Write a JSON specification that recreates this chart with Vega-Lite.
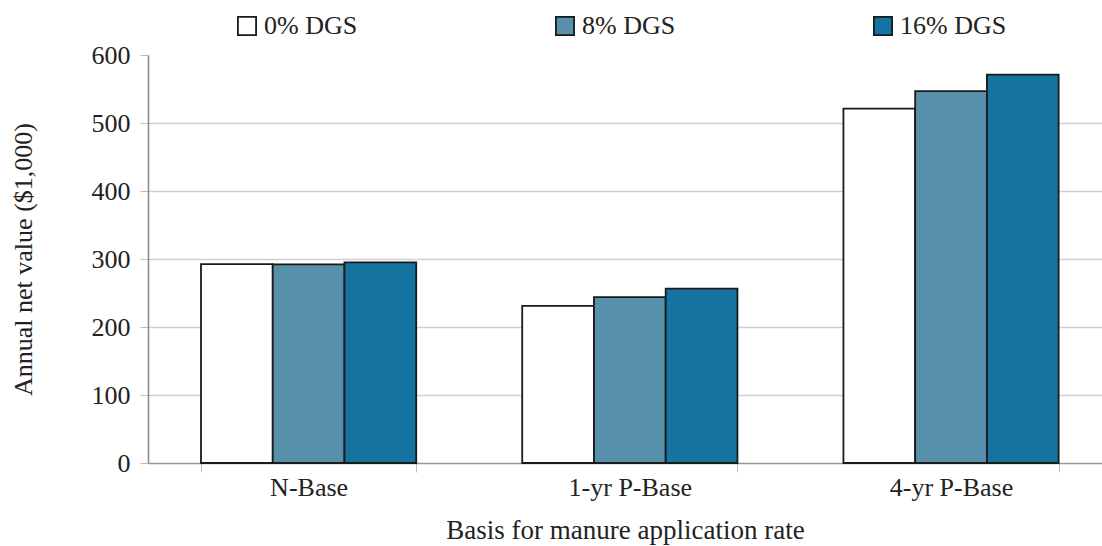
{
  "$schema": "https://vega.github.io/schema/vega-lite/v6.json",
  "width": 954,
  "height": 408,
  "autosize": {"type": "none"},
  "padding": {"left": 148, "top": 55, "right": 0, "bottom": 83},
  "background": "white",
  "config": {
    "font": "Liberation Serif",
    "view": {"stroke": null}
  },
  "data": {
    "values": [
      {"basis": "N-Base", "dgs": "0% DGS", "value": 292.5},
      {"basis": "N-Base", "dgs": "8% DGS", "value": 292},
      {"basis": "N-Base", "dgs": "16% DGS", "value": 295},
      {"basis": "1-yr P-Base", "dgs": "0% DGS", "value": 231},
      {"basis": "1-yr P-Base", "dgs": "8% DGS", "value": 244},
      {"basis": "1-yr P-Base", "dgs": "16% DGS", "value": 256.5},
      {"basis": "4-yr P-Base", "dgs": "0% DGS", "value": 521},
      {"basis": "4-yr P-Base", "dgs": "8% DGS", "value": 547},
      {"basis": "4-yr P-Base", "dgs": "16% DGS", "value": 571}
    ]
  },
  "mark": {"type": "bar", "stroke": "#1a1a1a", "strokeWidth": 1.8},
  "encoding": {
    "x": {
      "field": "basis",
      "type": "nominal",
      "sort": ["N-Base", "1-yr P-Base", "4-yr P-Base"],
      "scale": {"paddingInner": 0.33, "paddingOuter": 0.15, "align": 0.55},
      "axis": {
        "title": "Basis for manure application rate",
        "titleFont": "Liberation Serif",
        "titleFontSize": 27,
        "titleFontWeight": "normal",
        "titleColor": "#222",
        "titlePadding": 17,
        "labelAngle": 0,
        "labelFont": "Liberation Serif",
        "labelFontSize": 26,
        "labelColor": "#222",
        "labelPadding": 2,
        "tickBand": "extent",
        "tickSize": 9,
        "tickColor": "#bbbbbb",
        "domainColor": "#999999",
        "domainWidth": 1.5,
        "grid": false
      }
    },
    "xOffset": {
      "field": "dgs",
      "type": "nominal",
      "sort": ["0% DGS", "8% DGS", "16% DGS"],
      "scale": {"paddingInner": 0, "paddingOuter": 0}
    },
    "y": {
      "field": "value",
      "type": "quantitative",
      "scale": {"domain": [0, 600], "nice": false},
      "axis": {
        "title": "Annual net value ($1,000)",
        "titleFont": "Liberation Serif",
        "titleFontSize": 26,
        "titleFontWeight": "normal",
        "titleColor": "#222",
        "titlePadding": 55,
        "values": [0, 100, 200, 300, 400, 500, 600],
        "labelFont": "Liberation Serif",
        "labelFontSize": 26,
        "labelColor": "#222",
        "labelPadding": 10,
        "tickSize": 8,
        "tickColor": "#bbbbbb",
        "domainColor": "#888888",
        "domainWidth": 1.5,
        "grid": true,
        "gridColor": {"condition": {"test": "datum.value == 600 || datum.value == 0", "value": "transparent"}, "value": "#d0d0d0"},
        "gridWidth": 1.5
      }
    },
    "fill": {
      "field": "dgs",
      "type": "nominal",
      "sort": ["0% DGS", "8% DGS", "16% DGS"],
      "scale": {"domain": ["0% DGS", "8% DGS", "16% DGS"], "range": ["#ffffff", "#5790ab", "#1573a0"]},
      "legend": {
        "title": null,
        "orient": "none",
        "legendX": 86,
        "legendY": -42,
        "direction": "horizontal",
        "columns": 3,
        "gridAlign": "all",
        "columnPadding": 181,
        "symbolType": "square",
        "symbolSize": 330,
        "symbolStrokeColor": "#1a1a1a",
        "symbolStrokeWidth": 1.8,
        "labelFont": "Liberation Serif",
        "labelFontSize": 26,
        "labelColor": "#222",
        "labelOffset": 4,
        "labelLimit": 300
      }
    }
  }
}
